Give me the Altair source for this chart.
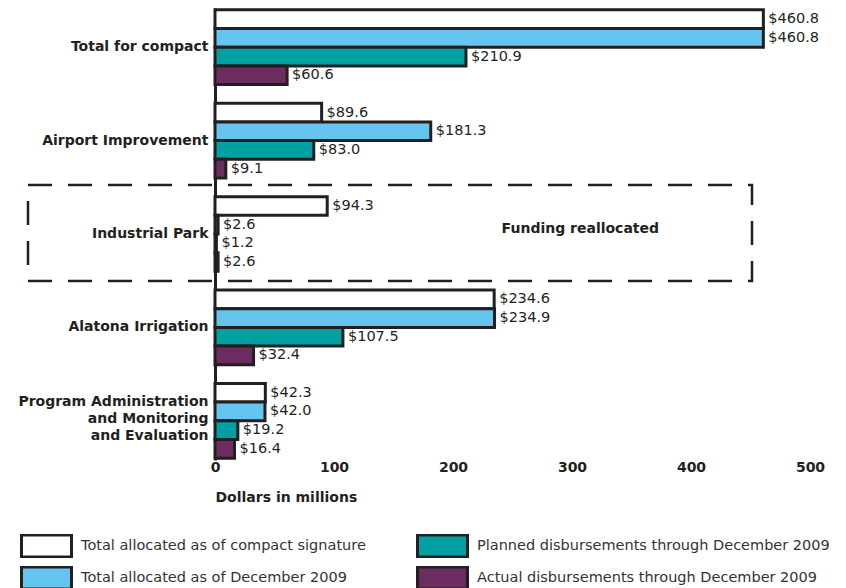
import altair as alt
import pandas as pd

categories = [
    "Total for compact",
    "Airport Improvement",
    "Industrial Park",
    "Alatona Irrigation",
    "Program Administration|and Monitoring|and Evaluation",
]
series = [
    "Total allocated as of compact signature",
    "Total allocated as of December 2009",
    "Planned disbursements through December 2009",
    "Actual disbursements through December 2009",
]
series_colors = ["#FFFFFF", "#66C5EE", "#00A0A3", "#6B2C5F"]

signature = [460.8, 89.6, 94.3, 234.6, 42.3]
dec2009 = [460.8, 181.3, 2.6, 234.9, 42.0]
planned = [210.9, 83.0, 1.2, 107.5, 19.2]
actual = [60.6, 9.1, 2.6, 32.4, 16.4]

x_ticks = [0, 100, 200, 300, 400, 500]
note_text = "Funding reallocated"
note_category = "Industrial Park"
note_x = 307

rows = []
for vals, s in zip([signature, dec2009, planned, actual], series):
    for c, v in zip(categories, vals):
        rows.append({"category": c, "series": s, "value": v,
                     "label": "$" + format(v, ".1f")})
df = pd.DataFrame(rows)

INK = "#231F20"
FONT = "DejaVu Sans"

y_enc = alt.Y("category:N", sort=categories,
              scale=alt.Scale(domain=categories, paddingInner=0.2, paddingOuter=0.02),
              axis=alt.Axis(title=None, ticks=False, domainColor=INK, domainWidth=3,
                            labelFont=FONT, labelFontSize=14, labelFontWeight="bold",
                            labelColor=INK, labelPadding=7, labelLineHeight=17,
                            labelLimit=320,
                            labelExpr="split(datum.label, '|')",
                            labelOffset={"condition": {
                                "test": "indexof(datum.value, '|') >= 0",
                                "value": -19}, "value": 0}))
yoff_enc = alt.YOffset("series:N", sort=series,
                       scale=alt.Scale(domain=series, paddingInner=0, paddingOuter=0))
x_enc = alt.X("value:Q",
              scale=alt.Scale(domain=[0, 500], nice=False),
              axis=alt.Axis(values=x_ticks, grid=False, domain=False, ticks=False,
                            labelFlush=False,
                            labelFont=FONT, labelFontSize=14, labelFontWeight="bold",
                            labelColor=INK, labelPadding=0,
                            title="Dollars in millions", titleFont=FONT,
                            titleFontSize=14, titleFontWeight="bold", titleColor=INK,
                            titleAnchor="start", titleAlign="left", titlePadding=16))

base = alt.Chart(df)

bars = base.mark_bar(stroke=INK, strokeWidth=3, cornerRadius=0).encode(
    x=x_enc,
    y=y_enc,
    yOffset=yoff_enc,
    color=alt.Color("series:N",
                    scale=alt.Scale(domain=series, range=series_colors),
                    legend=alt.Legend(
                        title=None, orient="none", legendX=-195, legendY=526,
                        columns=2, columnPadding=50, rowPadding=8,
                        symbolType="M-1,-0.44H1V0.44H-1Z", symbolSize=2500,
                        symbolStrokeColor=INK, symbolStrokeWidth=3,
                        clipHeight=24, symbolOffset=0,
                        labelFont=FONT, labelFontSize=14.5, labelColor="#333333",
                        labelOffset=8, labelLimit=400)),
)

labels = base.mark_text(align="left", baseline="middle", dx=5, font=FONT,
                        fontSize=14.5, color=INK).encode(
    x="value:Q",
    y=alt.Y("category:N", sort=categories),
    yOffset=alt.YOffset("series:N", sort=series),
    text="label:N",
)

box = alt.Chart(pd.DataFrame({"note": [note_text]})).mark_rect(
    filled=False, stroke=INK, strokeWidth=2.5, strokeDash=[24, 16]
).encode(
    x=alt.value(-187), x2=alt.value(537),
    y=alt.value(177), y2=alt.value(273),
)

note = alt.Chart(pd.DataFrame({"note": [note_text]})).mark_text(
    font=FONT, fontSize=14, fontWeight="bold", color=INK, dy=-5
).encode(
    x=alt.X(datum=note_x),
    y=alt.Y(datum=note_category),
    text="note:N",
)

chart = alt.layer(box, bars, labels, note).properties(
    width=595, height=452,
    autosize=alt.AutoSizeParams(type="none"),
    padding={"left": 207, "top": 0, "right": 28, "bottom": 128},
).configure_view(stroke=None)

chart.save("out.html", embed_options={"renderer": "svg", "actions": False})
